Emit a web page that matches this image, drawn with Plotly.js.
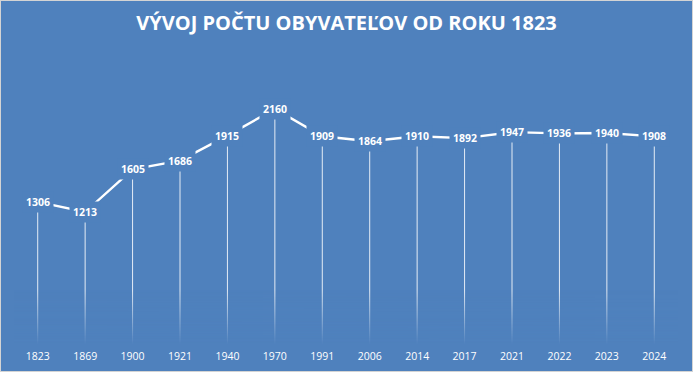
<!DOCTYPE html>
<html><head><meta charset="utf-8">
<script src="https://cdn.plot.ly/plotly-3.0.1.min.js"></script>
<style>html,body{margin:0;padding:0;background:#d9d9d9;}#chart{width:691px;height:370px;border:1px solid #d4d4d4;}</style>
</head><body><div id="chart"></div>
<script>
var years = ['1823','1869','1900','1921','1940','1970','1991','2006','2014','2017','2021','2022','2023','2024'];
var population = [1306,1213,1605,1686,1915,2160,1909,1864,1910,1892,1947,1936,1940,1908];
var titleText = 'VÝVOJ POČTU OBYVATEĽOV OD ROKU 1823';

var BG = '#4f81bd';
var zeros = population.map(function(){return 0;});

// gradient overlay to fade drop lines near the axis
var cv = document.createElement('canvas'); cv.width = 4; cv.height = 100;
var ctx = cv.getContext('2d');
var g = ctx.createLinearGradient(0,0,0,100);
g.addColorStop(0,'rgba(79,129,189,0)');
g.addColorStop(1,'rgba(79,129,189,1)');
ctx.fillStyle = g; ctx.fillRect(0,0,4,100);
var grad = cv.toDataURL();

var trace = {
  type:'scatter', mode:'lines', x: years, y: population,
  line:{color:'#ffffff', width:2.4},
  error_y:{type:'data', symmetric:false, array: zeros, arrayminus: population,
           width:0, thickness:1, color:'rgba(255,255,255,0.85)'},
  hoverinfo:'none', cliponaxis:false
};

var annotations = years.map(function(yr,i){
  return {x: i, y: population[i], xref:'x', yref:'y', text: String(population[i]),
    showarrow:false, bgcolor: BG, borderpad:3,
    font:{family:'Open Sans, sans-serif', size:10.5, color:'#ffffff', weight:'bold'}};
});

var layout = {
  width:691, height:370,
  paper_bgcolor: BG, plot_bgcolor: BG,
  margin:{l:13, r:14, t:71, b:27},
  title:{text: titleText, x:0.5, xanchor:'center', y:0.94, yanchor:'middle',
    font:{family:'Open Sans, sans-serif', size:20, color:'#ffffff', weight:'bold'}},
  showlegend:false,
  xaxis:{type:'category', range:[-0.5, years.length-0.5], autorange:false, showgrid:false, zeroline:false, showline:false, ticks:'',
    ticklabelstandoff:4,
    tickfont:{family:'Open Sans, sans-serif', size:10.5, color:'#ffffff'}, fixedrange:true},
  yaxis:{range:[0,2500], autorange:false, visible:false, showgrid:false, zeroline:false, fixedrange:true},
  annotations: annotations,
  images:[{source: grad, xref:'paper', yref:'y', x:0, y:500, sizex:1, sizey:500,
    sizing:'stretch', layer:'above', xanchor:'left', yanchor:'top'}]
};
Plotly.newPlot('chart',[trace],layout,{displayModeBar:false, staticPlot:true});
</script></body></html>
